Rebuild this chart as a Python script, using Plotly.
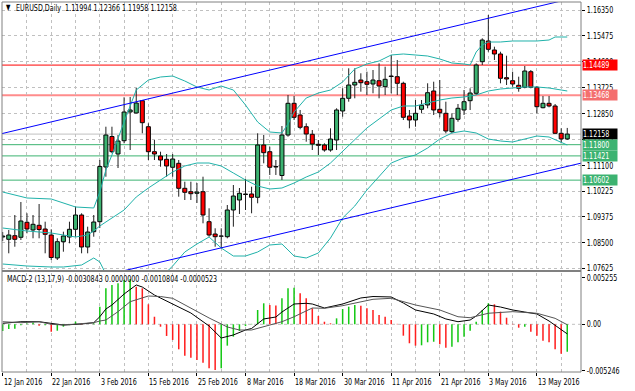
import plotly.graph_objects as go

# ------------------------------------------------------------------ data
symbol = "EURUSD,Daily"
date_label_bars = [0, 8, 16, 24, 32, 40, 48, 56, 64, 72, 80, 88]
date_labels = ["12 Jan 2016", "22 Jan 2016", "3 Feb 2016", "15 Feb 2016", "25 Feb 2016",
               "8 Mar 2016", "18 Mar 2016", "30 Mar 2016", "11 Apr 2016", "21 Apr 2016",
               "3 May 2016", "13 May 2016"]

opens = [
    1.08681, 1.08603, 1.08725, 1.08671, 1.09178, 1.08918, 1.09076, 1.08951, 1.08749, 1.07972,
    1.08522, 1.08681, 1.08941, 1.09424, 1.08343, 1.08860, 1.09198, 1.11046, 1.12076, 1.11485,
    1.11934, 1.12904, 1.12870, 1.13286, 1.12407, 1.11563, 1.11418, 1.11306, 1.11036, 1.11171,
    1.10326, 1.10211, 1.10157, 1.10211, 1.09198, 1.08782, 1.08708, 1.08691, 1.09593, 1.09931,
    1.10117, 1.10134, 1.10022, 1.11789, 1.11563, 1.11063, 1.10759, 1.12127, 1.13198, 1.12803,
    1.12407, 1.12151, 1.11813, 1.11789, 1.11620, 1.11958, 1.12938, 1.13367, 1.13816, 1.13985,
    1.13928, 1.13850, 1.13961, 1.13759, 1.14120, 1.14097, 1.13874, 1.12769, 1.12634, 1.12995,
    1.13141, 1.13614, 1.12995, 1.12860, 1.12239, 1.12657, 1.12972, 1.13286, 1.13536, 1.14603,
    1.15303, 1.14999, 1.14864, 1.14063, 1.13961, 1.13806, 1.13739, 1.14266, 1.13739, 1.13049,
    1.13198, 1.13107, 1.12184, 1.11994]
highs = [
    1.08850, 1.08918, 1.09424, 1.09864, 1.09482, 1.09424, 1.09796, 1.09198, 1.08941, 1.08637,
    1.08860, 1.09198, 1.09705, 1.09482, 1.09029, 1.09424, 1.11282, 1.12407, 1.12407, 1.12127,
    1.13401, 1.13411, 1.13715, 1.13309, 1.12522, 1.11958, 1.11563, 1.11485, 1.11485, 1.11282,
    1.10549, 1.10549, 1.10505, 1.10718, 1.09651, 1.08975, 1.08975, 1.09762, 1.10438, 1.10336,
    1.10641, 1.10380, 1.12184, 1.12127, 1.11732, 1.11282, 1.12431, 1.13478, 1.13445, 1.12972,
    1.12522, 1.12296, 1.11958, 1.11847, 1.12353, 1.13029, 1.13705, 1.14380, 1.14380, 1.14211,
    1.14266, 1.14323, 1.14549, 1.14434, 1.14830, 1.14661, 1.13928, 1.12972, 1.13309, 1.13309,
    1.13874, 1.13928, 1.13985, 1.13252, 1.12860, 1.13174, 1.13647, 1.13705, 1.14549, 1.15394,
    1.16181, 1.15110, 1.14941, 1.14806, 1.14266, 1.14097, 1.14458, 1.14323, 1.13782, 1.13445,
    1.13445, 1.13174, 1.12353, 1.12366]
lows = [
    1.08546, 1.08130, 1.08353, 1.08580, 1.08806, 1.08637, 1.08637, 1.08130, 1.07904, 1.07904,
    1.08184, 1.08468, 1.08691, 1.08130, 1.08130, 1.08691, 1.08985, 1.10718, 1.11509, 1.11012,
    1.11847, 1.11620, 1.12860, 1.12184, 1.11282, 1.11282, 1.11056, 1.10718, 1.10718, 1.10043,
    1.09931, 1.09931, 1.09830, 1.09144, 1.08691, 1.08353, 1.08299, 1.08637, 1.09029, 1.09458,
    1.09593, 1.09482, 1.09820, 1.11171, 1.10776, 1.10776, 1.10607, 1.12070, 1.12634, 1.12320,
    1.11901, 1.11620, 1.11451, 1.11563, 1.11563, 1.11620, 1.12745, 1.13252, 1.13367, 1.13590,
    1.13478, 1.13536, 1.13367, 1.13478, 1.13536, 1.13478, 1.12634, 1.12353, 1.12407, 1.12860,
    1.13029, 1.12803, 1.12725, 1.12184, 1.12184, 1.12576, 1.12803, 1.12972, 1.13478, 1.14492,
    1.14941, 1.14661, 1.13874, 1.13816, 1.13759, 1.13590, 1.13705, 1.13705, 1.12860, 1.13029,
    1.13063, 1.12161, 1.11847, 1.11958]
closes = [
    1.08715, 1.08749, 1.08603, 1.09222, 1.08951, 1.09110, 1.08934, 1.08772, 1.07989, 1.08522,
    1.08715, 1.08941, 1.09424, 1.08343, 1.08850, 1.09188, 1.11063, 1.12127, 1.11563, 1.11924,
    1.12904, 1.12972, 1.13208, 1.12543, 1.11563, 1.11485, 1.11282, 1.11080, 1.11316, 1.10326,
    1.10191, 1.10144, 1.10201, 1.09424, 1.08749, 1.08691, 1.08715, 1.09593, 1.10066, 1.10157,
    1.10134, 1.10022, 1.11789, 1.11529, 1.11036, 1.11046, 1.12127, 1.13198, 1.12725, 1.12387,
    1.12161, 1.11823, 1.11779, 1.11620, 1.11992, 1.12972, 1.13367, 1.13816, 1.13907, 1.13894,
    1.13840, 1.13985, 1.13782, 1.14009, 1.14103, 1.13874, 1.12725, 1.12634, 1.12860, 1.13130,
    1.13556, 1.12972, 1.12880, 1.12262, 1.12691, 1.13029, 1.13252, 1.13546, 1.14492, 1.15336,
    1.15022, 1.14864, 1.14043, 1.14019, 1.13850, 1.13705, 1.14289, 1.13739, 1.13083, 1.13198,
    1.13107, 1.12184, 1.11995, 1.12158]

# Bollinger bands (read at sampled bars)
bb_upper_bars = [0, 4, 8, 12, 15, 16, 17, 18, 20, 22, 24, 26, 28, 30, 32, 34, 36, 38, 40, 42,
                 44, 46, 47, 48, 50, 52, 54, 56, 58, 60, 62, 64, 66, 68, 70, 72, 74, 76, 77, 78,
                 79, 80, 82, 84, 86, 88, 90, 91, 93]
bb_upper = [1.10201, 1.09999, 1.09965, 1.09695, 1.09661, 1.10201, 1.10945, 1.11451, 1.12566, 1.13647,
            1.13985, 1.14086, 1.14120, 1.13951, 1.13749, 1.13647, 1.13782, 1.13647, 1.13141, 1.12566,
            1.12228, 1.12195, 1.12499, 1.12904, 1.13377, 1.13546, 1.13647, 1.13918, 1.14357, 1.14526,
            1.14627, 1.14830, 1.14864, 1.14830, 1.14796, 1.14695, 1.14559, 1.14526, 1.14492, 1.14931,
            1.15168, 1.15269, 1.15269, 1.15303, 1.15303, 1.15303, 1.15336, 1.15438, 1.15438]
bb_mid_bars = [0, 4, 8, 12, 14, 15, 16, 18, 20, 22, 24, 26, 28, 30, 32, 34, 36, 38, 40, 42,
               44, 46, 48, 50, 52, 54, 56, 58, 60, 62, 64, 66, 68, 70, 72, 74, 76, 78, 80, 82,
               84, 86, 88, 90, 92, 93]
bb_mid = [1.08985, 1.08884, 1.08816, 1.08681, 1.08749, 1.08884, 1.09053, 1.09323, 1.09593, 1.10032,
          1.10336, 1.10607, 1.10877, 1.11080, 1.11181, 1.11181, 1.11080, 1.10843, 1.10607, 1.10404,
          1.10303, 1.10336, 1.10505, 1.10708, 1.10877, 1.11181, 1.11586, 1.11992, 1.12364, 1.12668,
          1.12972, 1.13107, 1.13107, 1.13208, 1.13309, 1.13377, 1.13411, 1.13478, 1.13614, 1.13681,
          1.13715, 1.13749, 1.13749, 1.13715, 1.13647, 1.13614]
bb_low_bars = [0, 4, 8, 10, 13, 15, 16, 17, 18, 20, 22, 24, 26, 27, 28, 29, 30, 32, 34, 36,
               38, 40, 42, 44, 46, 48, 50, 52, 54, 56, 58, 60, 62, 64, 66, 68, 70, 72, 74, 76,
               78, 80, 82, 84, 86, 88, 90, 92, 93]
bb_low = [1.07769, 1.07701, 1.07668, 1.07668, 1.07735, 1.07972, 1.07836, 1.07431, 1.07195, 1.06620,
          1.06418, 1.06688, 1.07127, 1.07499, 1.07701, 1.07938, 1.08174, 1.08445, 1.08681, 1.08309,
          1.08039, 1.08039, 1.08174, 1.08411, 1.08445, 1.08039, 1.07972, 1.08141, 1.08647, 1.09323,
          1.09728, 1.10269, 1.10708, 1.11181, 1.11350, 1.11451, 1.11688, 1.11992, 1.12195, 1.12262,
          1.12195, 1.11992, 1.11924, 1.11891, 1.11992, 1.12093, 1.12059, 1.11891, 1.11789]

# channel (trend lines) anchors: bar index, price
channel_upper_bars = [-2, 96]
channel_upper_prices = [1.12083, 1.16850]
channel_lower_bars = [10, 96]
channel_lower_prices = [1.07059, 1.11211]

# horizontal levels
level_prices = [1.14489, 1.13468, 1.11800, 1.11421, 1.10602]

# price scale ticks
price_ticks = [1.16350, 1.15475, 1.14600, 1.13725, 1.12850, 1.11975, 1.11100,
               1.10225, 1.09375, 1.08500, 1.07625]

# MACD-2 (13,17,9)
macd_hist = [
    -0.00075, -0.00053, -0.00050, -0.00010, 0.00010, 0.00020, -0.00016, -0.00010, -0.00083, -0.00072,
    -0.00027, -0.00010, 0.00030, 0.00010, 0.00000, 0.00010, 0.00198, 0.00404, 0.00442, 0.00461,
    0.00498, 0.00509, 0.00422, 0.00404, 0.00225, 0.00085, -0.00027, -0.00131, -0.00176, -0.00281,
    -0.00353, -0.00375, -0.00401, -0.00431, -0.00494, -0.00513, -0.00494, -0.00240, -0.00139, -0.00075,
    -0.00020, 0.00005, 0.00161, 0.00236, 0.00217, 0.00210, 0.00292, 0.00404, 0.00410, 0.00348,
    0.00292, 0.00180, 0.00093, 0.00029, 0.00011, 0.00067, 0.00172, 0.00198, 0.00217, 0.00209,
    0.00180, 0.00161, 0.00104, 0.00085, 0.00048, 0.00005, -0.00128, -0.00213, -0.00240, -0.00236,
    -0.00202, -0.00196, -0.00225, -0.00263, -0.00252, -0.00202, -0.00139, -0.00072, 0.00029, 0.00161,
    0.00236, 0.00225, 0.00142, 0.00074, 0.00005, -0.00038, -0.00027, -0.00083, -0.00128, -0.00184,
    -0.00202, -0.00281, -0.00330, -0.0030843]
macd_buffer2_last = 0.0
macd_main_bars = [0, 3, 6, 8, 10, 13, 15, 16, 17, 18, 20, 22, 23, 25, 28, 31, 34, 36, 38, 40,
                  41, 43, 45, 46, 48, 50, 51, 53, 56, 59, 61, 63, 64, 66, 68, 71, 73, 75, 77, 78,
                  80, 82, 84, 86, 88, 90, 92, 93]
macd_main = [0.00011, 0.00029, 0.00029, 0.00009, -0.00008, 0.00003, 0.00018, 0.00085, 0.00172, 0.00217,
             0.00340, 0.00442, 0.00419, 0.00329, 0.00226, 0.00127, -0.00019, -0.00154, -0.00120, -0.00064,
             -0.00047, 0.00060, 0.00082, 0.00138, 0.00228, 0.00236, 0.00228, 0.00183, 0.00228, 0.00296,
             0.00312, 0.00312, 0.00307, 0.00239, 0.00161, 0.00116, 0.00060, 0.00029, 0.00048, 0.00093,
             0.00217, 0.00194, 0.00161, 0.00138, 0.00116, 0.00037, -0.00064, -0.0010804]
macd_signal_bars = [0, 3, 6, 8, 10, 13, 15, 16, 17, 19, 21, 24, 26, 28, 31, 34, 37, 39, 41, 43,
                    46, 48, 51, 53, 56, 61, 64, 68, 72, 75, 77, 80, 84, 88, 91, 93]
macd_signal = [0.00029, 0.00018, 0.00029, 0.0, -0.00008, 0.00003, 0.00018, 0.00037, 0.00048, 0.00142,
               0.00254, 0.00318, 0.00312, 0.00292, 0.00180, 0.00071, -0.00030, -0.00064, -0.00064, -0.00027,
               0.00029, 0.00085, 0.00183, 0.00180, 0.00209, 0.00281, 0.00292, 0.00217, 0.00161, 0.00085,
               0.00074, 0.00124, 0.00142, 0.00124, 0.00067, -0.0000523]
macd_ticks = [0.005255, 0.0, -0.005246]
macd_tick_text = ["0.005255", "0.00", "-0.005246"]

# ------------------------------------------------------------------ layout constants
W, H = 635, 391
ML, MR, MT, MB = 2, 35, 2, 19
PW, PH = W - ML - MR, H - MT - MB
FONT = "DejaVu Sans"
FS = 9


def py(p):  # pixel y -> paper
    return (H - MB - p) / PH


def px(p):  # pixel x -> paper
    return (p - ML) / PW


n = len(closes)
bars = list(range(n))
up = [c >= o for o, c in zip(opens, closes)]

fig = go.Figure()

# candle wicks (above and below body)
wx, wy = [], []
for i in bars:
    top, bot = max(opens[i], closes[i]), min(opens[i], closes[i])
    wx += [i, i, None, i, i, None]
    wy += [highs[i], top, None, bot, lows[i], None]
fig.add_trace(go.Scatter(x=wx, y=wy, mode="lines", line=dict(color="#202020", width=1),
                         hoverinfo="skip", showlegend=False, xaxis="x", yaxis="y"))

# candle bodies
body_base = [min(o, c) for o, c in zip(opens, closes)]
body_h = [max(abs(c - o), 0.00004) for o, c in zip(opens, closes)]
fig.add_trace(go.Bar(x=bars, y=body_h, base=body_base, width=0.66,
                     marker=dict(color=["#3CB371" if u else "#FF0000" for u in up],
                                 line=dict(color="black", width=1)),
                     showlegend=False, xaxis="x", yaxis="y"))

# Bollinger bands
for bx, by in ((bb_upper_bars, bb_upper), (bb_mid_bars, bb_mid), (bb_low_bars, bb_low)):
    fig.add_trace(go.Scatter(x=bx, y=by, mode="lines", line=dict(color="#20B2AA", width=1),
                             showlegend=False, xaxis="x", yaxis="y"))

# channel lines
for cx, cy in ((channel_upper_bars, channel_upper_prices), (channel_lower_bars, channel_lower_prices)):
    fig.add_trace(go.Scatter(x=cx, y=cy, mode="lines", line=dict(color="#0000FF", width=1),
                             showlegend=False, xaxis="x", yaxis="y"))

# MACD histogram (green while rising, red while falling)
hist_col = []
for i, v in enumerate(macd_hist):
    prev = macd_hist[i - 1] if i > 0 else v - 1
    hist_col.append("#14C814" if v >= prev else "#FF1E1E")
fig.add_trace(go.Bar(x=bars, y=macd_hist, width=0.25, marker=dict(color=hist_col, line=dict(width=0)),
                     showlegend=False, xaxis="x2", yaxis="y2"))
fig.add_trace(go.Scatter(x=macd_main_bars, y=macd_main, mode="lines", line=dict(color="black", width=1),
                         showlegend=False, xaxis="x2", yaxis="y2"))
fig.add_trace(go.Scatter(x=macd_signal_bars, y=macd_signal, mode="lines", line=dict(color="#555555", width=1),
                         showlegend=False, xaxis="x2", yaxis="y2"))

# ------------------------------------------------------------------ axes
x_lo = (ML - 2.7) / 6.27
x_hi = (ML + PW - 2.7) / 6.27
main_top = 1.1635 + 8 / 2960
main_bot = main_top - 268 / 2960
macd_top = (324.3 - 273) / 8900
macd_bot = (324.3 - 372) / 8900

xcommon = dict(range=[x_lo, x_hi], tick0=0, dtick=8, showgrid=True, gridcolor="#C0C0C0",
               griddash="dot", gridwidth=1, zeroline=False, showticklabels=False,
               minor=dict(tick0=0, dtick=4, showgrid=True, gridcolor="#C0C0C0", griddash="dot"),
               showline=False, fixedrange=True)
fig.update_layout(
    xaxis=dict(**xcommon, domain=[0, 1], anchor="y", ticks=""),
    xaxis2=dict(**xcommon, domain=[0, 1], anchor="y2", matches="x", ticks="outside",
                ticklen=3, tickcolor="black"),
    yaxis=dict(domain=[py(270), 1], range=[main_bot, main_top], side="right", anchor="x",
               tickvals=price_ticks, ticktext=[f"{v:.5f}" for v in price_ticks],
               showgrid=True, gridcolor="#C0C0C0", griddash="dot", zeroline=False,
               ticks="outside", ticklen=3, tickcolor="black", fixedrange=True,
               tickfont=dict(family=FONT, size=FS, color="black")),
    yaxis2=dict(domain=[0, py(273)], range=[macd_bot, macd_top], side="right", anchor="x2",
                tickvals=macd_ticks, ticktext=macd_tick_text, showgrid=False, zeroline=False,
                ticks="outside", ticklen=3, tickcolor="black", fixedrange=True,
                tickfont=dict(family=FONT, size=FS, color="black")),
    barmode="overlay",
    width=W, height=H, margin=dict(l=ML, r=MR, t=MT, b=MB),
    paper_bgcolor="white", plot_bgcolor="white", showlegend=False,
    font=dict(family=FONT, size=FS, color="black"),
)

# ------------------------------------------------------------------ shapes
level_styles = [("#FF0000", 1), ("#FF8C8C", 2), ("#3CB371", 1), ("#3CB371", 1), ("#3CB371", 1)]
shapes = []
shapes.append(dict(type="line", xref="paper", yref="y", x0=0, x1=1, y0=closes[-1], y1=closes[-1],
                   line=dict(color="#C0C0C0", width=1), layer="below"))
for v, (c, w) in zip(level_prices, level_styles):
    shapes.append(dict(type="line", xref="paper", yref="y", x0=0, x1=1, y0=v, y1=v,
                       line=dict(color=c, width=w), layer="below"))
shapes.append(dict(type="line", xref="paper", yref="y2", x0=0, x1=1, y0=0, y1=0,
                   line=dict(color="#C0C0C0", width=1, dash="dot"), layer="below"))
shapes.append(dict(type="line", xref="paper", yref="paper", x0=0, x1=1, y0=py(271), y1=py(271),
                   line=dict(color="#808080", width=2)))
shapes.append(dict(type="rect", xref="paper", yref="paper", x0=0, x1=1, y0=0, y1=1,
                   line=dict(color="#808080", width=1)))
fig.update_layout(shapes=shapes)

# ------------------------------------------------------------------ annotations
ann = []
ann.append(dict(text="▼", xref="paper", yref="paper", x=px(4), y=py(8), xanchor="left",
                yanchor="middle", showarrow=False, font=dict(size=8, color="black")))
ann.append(dict(text=f"{symbol}  {opens[-1]:.5f} {highs[-1]:.5f} {lows[-1]:.5f} {closes[-1]:.5f}",
                xref="paper", yref="paper", x=px(14), y=py(8), xanchor="left", yanchor="middle",
                showarrow=False, font=dict(family=FONT, size=FS, color="black")))
ann.append(dict(text=f"MACD-2 (13,17,9) {macd_hist[-1]:.7f} {macd_buffer2_last:.7f} "
                     f"{macd_main[-1]:.7f} {macd_signal[-1]:.7f}",
                xref="paper", yref="paper", x=px(5), y=py(279), xanchor="left", yanchor="middle",
                showarrow=False, font=dict(family=FONT, size=FS, color="black")))
for b, t in zip(date_label_bars, date_labels):
    ann.append(dict(text=t, xref="x2", yref="paper", x=b, y=py(382), xanchor="left",
                    yanchor="middle", xshift=-1, showarrow=False,
                    font=dict(family=FONT, size=FS, color="black")))

label_bg = ["#FF0000", "#F46E6E", "#3CB371", "#3CB371", "#3CB371"]
box_x = px(601)
ann.append(dict(text=f"{closes[-1]:.5f}", xref="paper", yref="y", x=box_x, y=closes[-1],
                xanchor="left", yanchor="middle", showarrow=False, bgcolor="black",
                width=34, height=10, align="left", borderpad=0,
                font=dict(family=FONT, size=FS, color="white")))
for v, bg in zip(level_prices, label_bg):
    ann.append(dict(text=f"{v:.5f}", xref="paper", yref="y", x=box_x, y=v,
                    xanchor="left", yanchor="middle", showarrow=False, bgcolor=bg,
                    width=34, height=10, align="left", borderpad=0,
                    font=dict(family=FONT, size=FS, color="white")))
fig.update_layout(annotations=ann)

# page without body margin; condense all texts horizontally (narrow face in the reference)
post = """
document.documentElement.style.margin = '0';
document.body.style.margin = '0';
document.body.style.padding = '0';
var gd = document.getElementById('{plot_id}');
var SQ = 0.71;
var ts = gd.querySelectorAll('text');
for (var k = 0; k < ts.length; k++) {
  var t = ts[k];
  var w = t.getComputedTextLength();
  if (!(w > 0)) continue;
  var anc = t.getAttribute('text-anchor') || window.getComputedStyle(t).textAnchor || 'start';
  t.setAttribute('textLength', (w * SQ).toFixed(2));
  t.setAttribute('lengthAdjust', 'spacingAndGlyphs');
  if (t.closest('.annotation')) {
    var dx = 0;
    if (anc === 'middle') dx = -w * (1 - SQ) / 2;
    else if (anc === 'end') dx = -w * (1 - SQ);
    if (dx !== 0) {
      var tr = t.getAttribute('transform') || '';
      t.setAttribute('transform', tr + ' translate(' + dx.toFixed(2) + ',0)');
    }
  }
}
"""
fig.write_html("out.html", post_script=post,
               config={"displayModeBar": False, "staticPlot": True})
